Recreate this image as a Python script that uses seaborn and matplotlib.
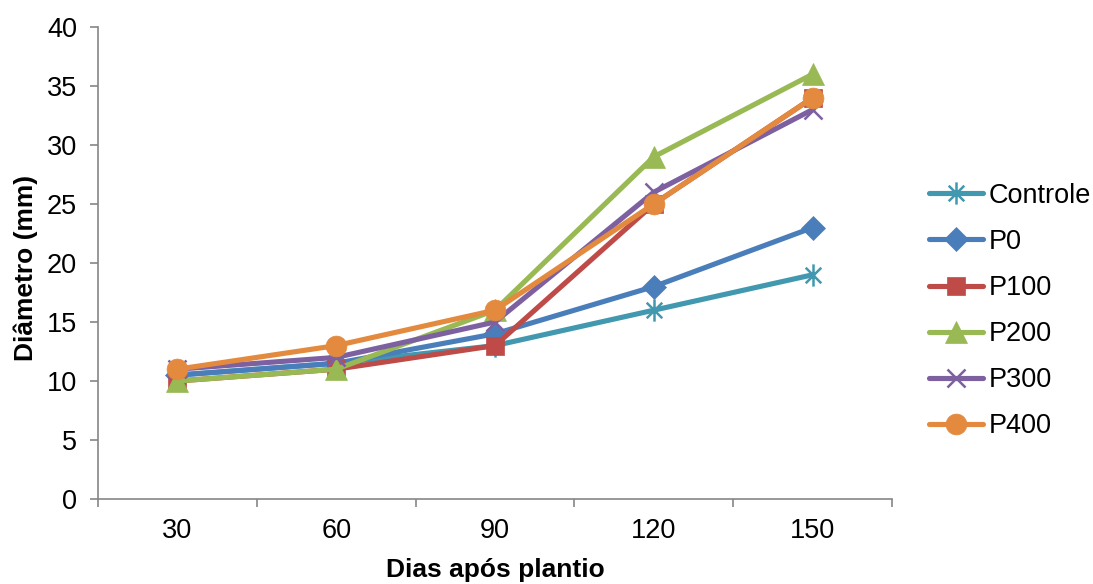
import matplotlib
matplotlib.use("Agg")
import matplotlib.pyplot as plt
from matplotlib.path import Path
import seaborn as sns
import pandas as pd

# Sampling days and stem diameter (mm) per treatment
dias = ["30", "60", "90", "120", "150"]
controle = [10.5, 11.5, 13, 16, 19]
p0 = [10.5, 11.5, 14, 18, 23]
p100 = [10, 11, 13, 25, 34]
p200 = [10, 11, 16, 29, 36]
p300 = [11, 12, 15, 26, 33]
p400 = [11, 13, 16, 25, 34]

series = ["Controle", "P0", "P100", "P200", "P300", "P400"]
values = [controle, p0, p100, p200, p300, p400]

colors = ["#4198AF", "#4A7EBB", "#BE4B48", "#98B954", "#7D60A0", "#E38A3F"]

# asterisk: vertical bar plus a diagonal cross
asterisk = Path(
    [(0, -1), (0, 1), (-0.7, -0.7), (0.7, 0.7), (-0.7, 0.7), (0.7, -0.7)],
    [Path.MOVETO, Path.LINETO, Path.MOVETO, Path.LINETO, Path.MOVETO, Path.LINETO],
)
markers = [asterisk, "D", "s", "^", "x", "o"]
msizes = [16, 12.5, 13.5, 15.5, 13, 15]

rows = []
for name, vals in zip(series, values):
    for i, (d, v) in enumerate(zip(dias, vals)):
        rows.append({"serie": name, "pos": i, "dia": d, "diametro": v})
df = pd.DataFrame(rows)

sns.set_theme(style="white")
plt.rcParams["font.family"] = ["Liberation Sans", "DejaVu Sans"]
plt.rcParams["text.color"] = "black"
plt.rcParams["axes.labelcolor"] = "black"

FS = 19.5
FS_LABEL = 19

fig = plt.figure(figsize=(10.93, 5.84), dpi=100)
ax = fig.add_axes([98 / 1093, 1 - 499 / 584, (892 - 98) / 1093, (499 - 27) / 584])

for name, col, mk, ms in zip(series, colors, markers, msizes):
    sub = df[df["serie"] == name]
    sns.lineplot(
        data=sub, x="pos", y="diametro", ax=ax, color=col, label=name,
        linewidth=3.7, marker=mk, markersize=ms,
        markeredgecolor=col, markerfacecolor=col,
        markeredgewidth=1.8 if name in ("Controle", "P300") else 0.5,
        solid_capstyle="round",
    )

ax.set_xlim(-0.5, len(dias) - 0.5)
ax.set_ylim(0, 40)
ax.set_yticks(range(0, 41, 5))
ax.set_xticks(range(len(dias)))
ax.set_xticklabels(dias)
ax.set_xticks([i - 0.5 for i in range(len(dias) + 1)], minor=True)

ax.tick_params(axis="x", which="major", length=0, pad=14, labelsize=FS, colors="black")
ax.tick_params(axis="x", which="minor", length=6, width=1.2, color="#868686", direction="out")
ax.tick_params(axis="y", which="major", length=6, width=1.2, color="#868686",
               direction="out", pad=9, labelsize=FS, labelcolor="black")
ax.tick_params(left=True, bottom=True)
ax.xaxis.set_tick_params(which="minor", bottom=True)

for side in ("top", "right"):
    ax.spines[side].set_visible(False)
for side in ("left", "bottom"):
    ax.spines[side].set_color("#868686")
    ax.spines[side].set_linewidth(1.2)

ax.set_xlabel("Dias após plantio", fontsize=FS_LABEL, fontweight="bold", color="black")
ax.set_ylabel("Diâmetro (mm)", fontsize=FS_LABEL, fontweight="bold", color="black")
ax.xaxis.set_label_coords(0.5, -(570 - 499) / 472, transform=ax.transAxes)
ax.xaxis.label.set_va("center")
ax.yaxis.set_label_coords(-(98 - 26) / 794, 0.49, transform=ax.transAxes)
ax.yaxis.label.set_va("center")

leg = ax.legend(
    loc="center left", bbox_to_anchor=(929 / 1093, 1 - 311 / 584),
    bbox_transform=fig.transFigure, frameon=False, fontsize=FS,
    handlelength=2.0, handletextpad=0.2, labelspacing=0.74,
    borderpad=0, borderaxespad=0,
)
for txt in leg.get_texts():
    txt.set_color("black")

fig.savefig("out.png", dpi=100)
